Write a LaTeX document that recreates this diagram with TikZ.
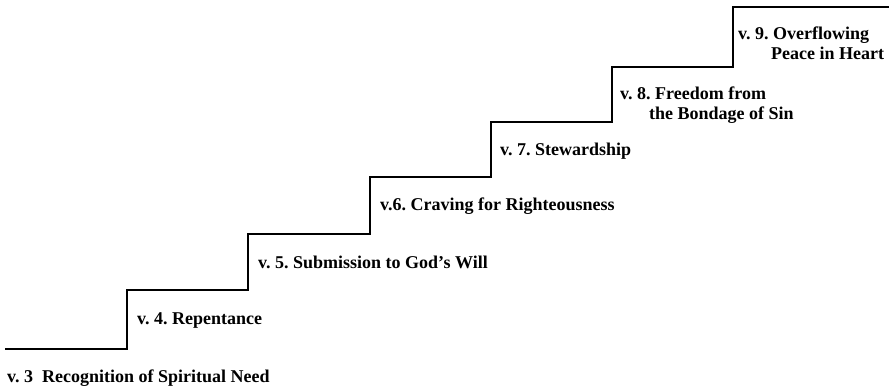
\documentclass[tikz,border=0pt]{standalone}
\usepackage{fontspec}
\setmainfont{Liberation Serif}
\usetikzlibrary{positioning}
\frenchspacing
\begin{document}
\begin{tikzpicture}[x=1pt,y=-1pt]
		\tikzstyle{stair}=[line width=2.8pt, line join=miter]
		\tikzstyle{verse}=[anchor=north west, inner sep=0pt, align=left, font=\fontsize{18}{19.5}\selectfont\bfseries, execute at begin node=\strut]
		\useasboundingbox (0,0) rectangle (892,391);
		
		\coordinate (s3) at (5,349);
		\coordinate (s4) at (127,290);
		\coordinate (s5) at (248,234);
		\coordinate (s6) at (370,177);
		\coordinate (s7) at (491,122);
		\coordinate (s8) at (612,67);
		\coordinate (s9) at (733,7);
		\coordinate (top) at (889,7);
		
		\draw[stair] (s3) -- (s3 -| s4) -- (s4) -- (s4 -| s5) -- (s5) -- (s5 -| s6) -- (s6)
			-- (s6 -| s7) -- (s7) -- (s7 -| s8) -- (s8) -- (s8 -| s9) -- (s9) -- (top);
		
		\node[verse] (v3) [below right=20pt and 2pt of s3] {v. 3\ \ Recognition of Spiritual Need};
		\node[verse] (v4) [below right=21pt and 10pt of s4] {v. 4. Repentance};
		\node[verse] (v5) [below right=21pt and 10pt of s5] {v. 5. Submission to God's Will};
		\node[verse] (v6) [below right=20pt and 10pt of s6] {v.6. Craving for Righteousness};
		\node[verse] (v7) [below right=20pt and 9pt of s7] {v. 7. Stewardship};
		\node[verse] (v8) [below right=20pt and 8pt of s8] {v. 8. Freedom from\\\hspace*{29pt}the Bondage of Sin};
		\node[verse] (v9) [below right=20pt and 5pt of s9] {v. 9. Overflowing\\\hspace*{33pt}Peace in Heart};
		
\end{tikzpicture}
\end{document}
